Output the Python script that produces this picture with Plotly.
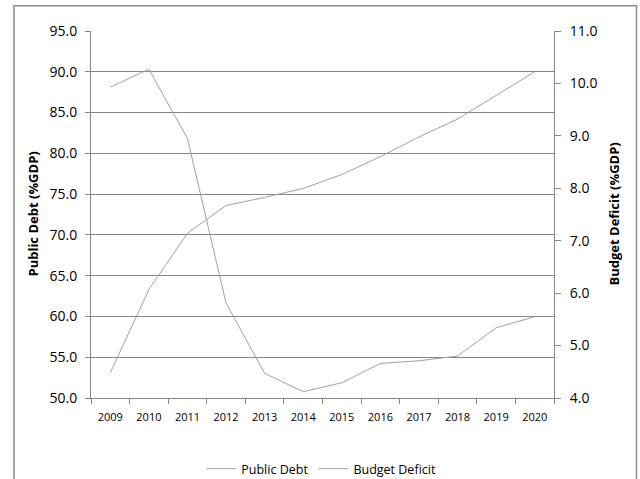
import plotly.graph_objects as go

years = ["2009", "2010", "2011", "2012", "2013", "2014", "2015", "2016", "2017", "2018", "2019", "2020"]
public_debt = [53.1, 63.3, 70.2, 73.6, 74.6, 75.7, 77.4, 79.6, 82.0, 84.2, 87.1, 90.0]
budget_deficit = [9.93, 10.27, 8.95, 5.81, 4.47, 4.12, 4.29, 4.66, 4.71, 4.80, 5.34, 5.55]

left_ticks = [50, 55, 60, 65, 70, 75, 80, 85, 90, 95]
right_ticks = [4, 5, 6, 7, 8, 9, 10, 11]

W, H = 640, 479
ML, MR, MT, MB = 91, 86, 31, 81
PW, PH = W - ML - MR, H - MT - MB

LINE = "#a0a0a0"
AXIS = "#878787"
FONT = "Open Sans"

fig = go.Figure()
fig.add_trace(go.Scatter(x=years, y=public_debt, name="Public Debt", mode="lines",
                         line=dict(color=LINE, width=1), yaxis="y"))
fig.add_trace(go.Scatter(x=years, y=budget_deficit, name="Budget Deficit", mode="lines",
                         line=dict(color=LINE, width=1), yaxis="y2"))

def px_x(p):
    return (p - ML) / PW

def px_y(p):
    return (H - MB - p) / PH

fig.update_layout(
    width=W, height=H,
    margin=dict(l=ML, r=MR, t=MT, b=MB, pad=0, autoexpand=False),
    paper_bgcolor="white", plot_bgcolor="white",
    font=dict(family=FONT, color="#000000"),
    showlegend=True,
    legend=dict(orientation="h", x=0.502, xanchor="center",
                xref="container", yref="container", y=1 - 469 / H, yanchor="middle",
                font=dict(family=FONT, size=12.5, color="#000000"), itemwidth=30,
                bgcolor="rgba(0,0,0,0)"),
    xaxis=dict(type="category", range=[-0.5, 11.5], tickson="boundaries",
               ticks="outside", ticklen=5, tickcolor=AXIS, showline=True,
               linecolor=AXIS, linewidth=1, showgrid=False, zeroline=False,
               tickfont=dict(family=FONT, size=11, color="#000000"),
               ticklabelstandoff=9, fixedrange=True, automargin=False),
    yaxis=dict(range=[50, 95], tickvals=left_ticks, tickformat=".1f",
               ticks="outside", ticklen=5, tickcolor=AXIS, showline=True,
               linecolor=AXIS, linewidth=1, showgrid=True, gridcolor=AXIS,
               gridwidth=1, zeroline=False, ticklabelstandoff=5, automargin=False,
               tickfont=dict(family=FONT, size=14, color="#000000")),
    yaxis2=dict(range=[4, 11], tickvals=right_ticks, tickformat=".1f",
                overlaying="y", side="right", anchor="x",
                ticks="outside", ticklen=6, tickcolor=AXIS, showline=True,
                linecolor=AXIS, linewidth=1, showgrid=False, zeroline=False,
                ticklabelstandoff=6, automargin=False,
                tickfont=dict(family=FONT, size=14, color="#000000")),
    annotations=[
        dict(text="<b>Public Debt (%GDP)</b>", textangle=-90, showarrow=False,
             xref="paper", yref="paper", x=px_x(32), y=0.5,
             xanchor="center", yanchor="middle",
             font=dict(family=FONT, size=13, color="#000000")),
        dict(text="<b>Budget Deficit (%GDP)</b>", textangle=-90, showarrow=False,
             xref="paper", yref="paper", x=px_x(613), y=0.5,
             xanchor="center", yanchor="middle",
             font=dict(family=FONT, size=13, color="#000000")),
    ],
    shapes=[dict(type="rect", xref="paper", yref="paper",
                 x0=px_x(14), x1=px_x(636.5), y0=px_y(495), y1=px_y(5.7),
                 line=dict(color="#8c8c8c", width=1.5), fillcolor="rgba(0,0,0,0)",
                 layer="below")],
)

fig.write_html("out.html")
